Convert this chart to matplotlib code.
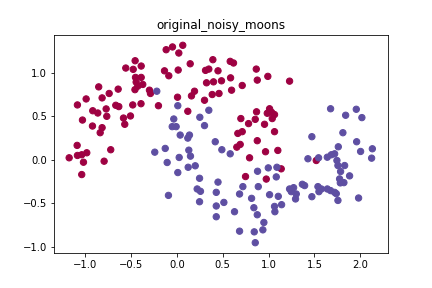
import numpy as np
import matplotlib
matplotlib.use("Agg")
import matplotlib.pyplot as plt

# class 0 (upper moon)
x_red = [-0.454, -0.556, -0.475, -0.450, -0.388, -0.443, -0.371, -0.425, -0.456,
         -0.851, -0.639, -0.737, -0.814, -0.988, -1.083, -0.916, -0.861, -0.770,
         -0.665, -0.632, -0.480, -0.390, -0.116, -0.047, 0.065, 0.022, 0.393,
         -0.388, 0.146, -0.134, -0.087, 0.015, 0.313, 0.349, 0.449, -0.298,
         -0.287, 0.324, 0.400, 0.487, 0.193, 0.160, 0.386, 0.460, 0.008, 0.302,
         -0.200, 0.120, 0.582, 0.618, 0.866, 0.586, 0.877, 0.992, 1.229, 0.713,
         0.597, 1.011, 1.033, 0.869, 0.986, 1.065, 1.040, 0.698, 0.855, 0.782,
         0.956, 1.065, 0.665, 0.713, 0.877, 0.691, 0.654, 0.967, 1.101, 0.793,
         1.138, 0.749, 0.975, 1.520, -1.028, -0.763, -0.581, -0.505, -0.567,
         -0.919, -0.814, -0.835, -1.086, -0.720, -0.981, -1.036, -1.083, -1.173,
         -1.017, -0.792, -1.036]
y_red = [1.141, 1.057, 1.042, 0.949, 0.949, 0.895, 0.868, 0.848, 0.808,
         0.840, 0.814, 0.764, 0.713, 0.701, 0.632, 0.565, 0.539, 0.586,
         0.628, 0.613, 0.632, 0.646, 1.268, 1.300, 1.319, 1.230, 1.153,
         1.080, 1.106, 1.025, 0.968, 1.034, 1.030, 1.045, 1.025, 0.802,
         0.764, 0.887, 0.898, 0.910, 0.790, 0.736, 0.752, 0.764, 0.721, 0.686,
         0.623, 0.559, 1.134, 1.115, 1.045, 0.944, 0.918, 0.961, 0.906, 0.856,
         0.802, 0.588, 0.547, 0.553, 0.536, 0.521, 0.475, 0.475, 0.466, 0.417,
         0.409, 0.324, 0.304, 0.324, 0.220, 0.177, 0.146, 0.093, 0.108, 0.023,
         -0.104, -0.193, -0.222, -0.008, 0.458, 0.501, 0.481, 0.505, 0.409,
         0.389, 0.370, 0.312, 0.166, 0.116, 0.081, 0.058, 0.050, 0.023,
         -0.028, -0.016, -0.170]

# class 1 (lower moon)
x_blue = [-0.218, 0.011, 0.349, 1.676, 1.956, -0.033, 0.251, -0.050, -0.007,
          0.302, 0.037, 0.120, 0.138, 0.419, 0.491, -0.126, -0.240, 0.131,
          0.149, 0.026, -0.105, 0.124, 0.201, 0.011, 0.248, 0.449, 0.582,
          0.997, 1.091, 0.880, 1.084, 1.429, 1.472, 1.840, 2.017, 1.810, 1.960,
          2.131, 2.003, 2.123, 1.760, 1.720, 1.684, 1.640, 1.545, 1.745, 1.756,
          1.829, 1.785, 1.883, 1.774, 0.222, 0.258, 0.430, -0.091, 0.248, 0.430,
          0.513, 0.430, 0.720, 0.888, 1.229, 1.273, 1.248, 1.302, 1.294, 1.368,
          0.684, 1.011, 1.106, 0.815, 1.065, 1.142, 0.840, 0.629, 1.069, 0.877,
          0.949, 0.938, 0.684, 0.844, 0.855, 1.393, 1.538, 1.575, 1.549, 1.640,
          1.782, 1.821, 1.676, 1.720, 1.738, 1.472, 1.756, 1.981]
y_blue = [0.790, 0.623, 0.571, 0.588, 0.582, 0.470, 0.490, 0.382, 0.382,
          0.394, 0.285, 0.250, 0.285, 0.208, 0.116, 0.131, 0.088, 0.111,
          0.042, 0.027, -0.031, -0.086, -0.069, -0.147, -0.213, -0.257, 0.069,
          -0.093, -0.086, -0.132, -0.197, 0.012, 0.266, 0.513, 0.486, 0.312, 0.208,
          0.127, 0.096, 0.019, 0.150, 0.069, 0.058, 0.030, 0.023, -0.008, -0.066,
          -0.066, -0.135, -0.185, -0.220, -0.336, -0.363, -0.375, -0.410, -0.483, -0.532,
          -0.491, -0.656, -0.309, -0.309, -0.336, -0.321, -0.367, -0.394, -0.451, -0.282,
          -0.394, -0.402, -0.421, -0.444, -0.537, -0.517, -0.552, -0.598, -0.598, -0.633,
          -0.722, -0.807, -0.822, -0.830, -0.955, -0.297, -0.309, -0.336, -0.367, -0.336,
          -0.266, -0.263, -0.355, -0.375, -0.390, -0.425, -0.468, -0.440]

X = np.concatenate([np.column_stack([x_red, y_red]), np.column_stack([x_blue, y_blue])])
labels = np.array([0] * len(x_red) + [1] * len(x_blue))

fig, ax = plt.subplots(figsize=(6, 4), dpi=72)
fig.subplots_adjust(bottom=0.123, top=0.877, right=0.897)
ax.scatter(X[:, 0], X[:, 1], c=labels, cmap=plt.cm.Spectral, s=40)
ax.set_title("original_noisy_moons")
fig.savefig("out.png", dpi=72)
